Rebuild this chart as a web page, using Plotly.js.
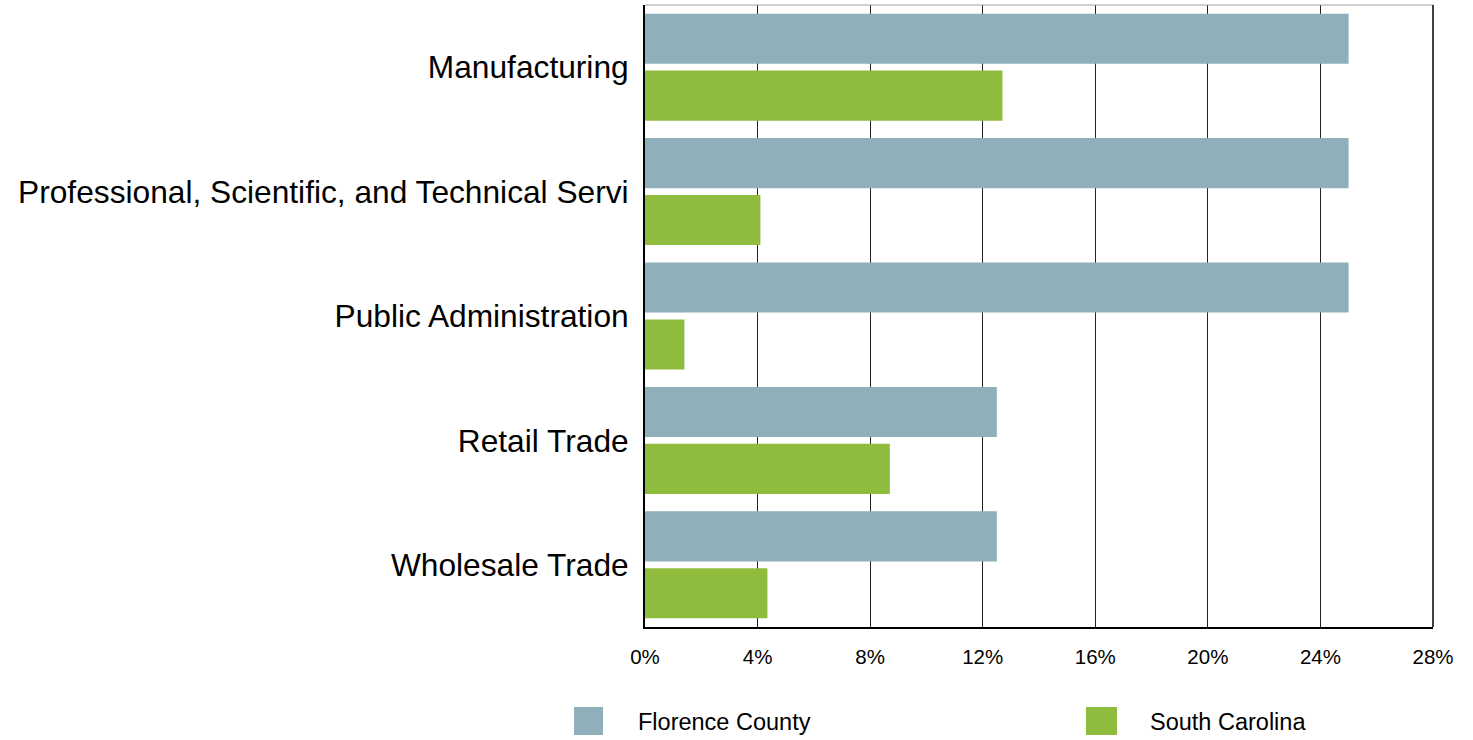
<!DOCTYPE html>
<html>
<head>
<meta charset="utf-8">
<script src="https://cdn.plot.ly/plotly-3.0.1.min.js"></script>
<style>html,body{margin:0;padding:0;background:#fff}#chart{width:1473px;height:740px}</style>
</head>
<body>
<div id="chart"></div>
<script>
const categories = ["Manufacturing", "Professional, Scientific, and Technical Servi", "Public Administration", "Retail Trade", "Wholesale Trade"];
const seriesNames = ["Florence County", "South Carolina"];
const florence = [25.0, 25.0, 25.0, 12.5, 12.5];
const southCarolina = [12.7, 4.1, 1.4, 8.7, 4.35];
const xTicks = [0, 4, 8, 12, 16, 20, 24, 28];
const colors = ["#8fafba", "#8fbc3c"];

const traces = [florence, southCarolina].map((vals, i) => ({
  type: "bar", orientation: "h", name: seriesNames[i],
  y: categories, x: vals, marker: {color: colors[i]},
  showlegend: false, hoverinfo: "x+y"
}));

const legendPos = [{sx0: -0.0901, sx1: -0.0533, tx: -0.0089}, {sx0: 0.5596, sx1: 0.5990, tx: 0.6409}];
const shapes = [
  {type: "line", xref: "paper", yref: "paper", x0: 0, x1: 1, y0: 1, y1: 1, line: {color: "#a0a0a0", width: 1}},
  {type: "line", xref: "paper", yref: "paper", x0: 1, x1: 1, y0: 0, y1: 1, line: {color: "#000", width: 1.5}}
];
const annotations = [];
seriesNames.forEach((n, i) => {
  const p = legendPos[i];
  shapes.push({type: "rect", xref: "paper", yref: "paper", x0: p.sx0, x1: p.sx1, y0: -0.1286, y1: -0.1736, fillcolor: colors[i], line: {width: 0}});
  annotations.push({xref: "paper", yref: "paper", x: p.tx - 0.003, y: -0.152, xanchor: "left", yanchor: "middle", text: n, showarrow: false, font: {family: "Liberation Sans, Arial, sans-serif", size: 23.5, color: "#000"}});
});

const layout = {
  width: 1473, height: 740,
  margin: {l: 645, r: 40, t: 5, b: 113, pad: 0},
  paper_bgcolor: "#fff", plot_bgcolor: "#fff",
  barmode: "group", bargap: 0.085, bargroupgap: 0.12,
  font: {family: "Liberation Sans, Arial, sans-serif", color: "#000"},
  xaxis: {
    range: [0, 28], tickvals: xTicks, ticktext: xTicks.map(v => v + "%"),
    showgrid: true, gridcolor: "#222", gridwidth: 1,
    zeroline: false, showline: true, linecolor: "#000", linewidth: 2,
    ticks: "", ticklabelstandoff: 10, tickfont: {size: 20.5, color: "#000"}, fixedrange: true
  },
  yaxis: {
    autorange: "reversed", showgrid: false, zeroline: false,
    showline: true, linecolor: "#000", linewidth: 2,
    ticks: "", ticklabelstandoff: 8, tickfont: {size: 31.7, color: "#000"}, fixedrange: true
  },
  showlegend: false,
  shapes: shapes, annotations: annotations
};
Plotly.newPlot("chart", traces, layout, {displayModeBar: false, staticPlot: true});
</script>
</body>
</html>
